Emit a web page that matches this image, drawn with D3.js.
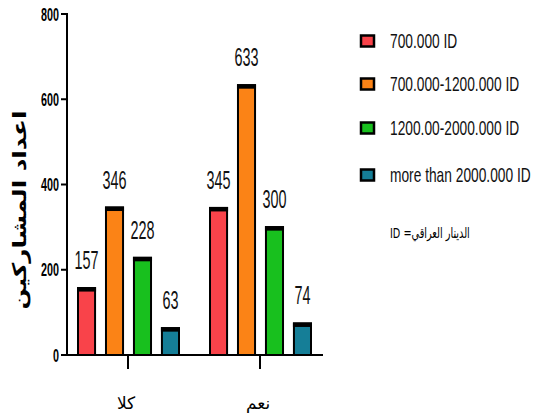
<!DOCTYPE html>
<html><head><meta charset="utf-8">
<script src="https://cdn.jsdelivr.net/npm/d3@7"></script>
<style>
body{margin:0;background:#fff;}
svg text{font-family:"Liberation Sans",Arial,sans-serif;}
</style></head>
<body><svg id="c" width="535" height="418"></svg>
<script>
const categories = ["كلا", "نعم"];
const seriesNames = ["700.000 ID", "700.000-1200.000 ID", "1200.00-2000.000 ID", "more than 2000.000 ID"];
const seriesColors = ["#f9434a", "#fb8316", "#18c01e", "#157e97"];
const valuesNo = [157, 346, 228, 63];
const valuesYes = [345, 633, 300, 74];
const yTicks = [0, 200, 400, 600, 800];
const yTitle = "اعداد المشاركين";
const note = "ID =الدينار العراقي";

const svg = d3.select("#c");
const y = d3.scaleLinear().domain([0, 800]).range([355, 14]);
const x = d3.scaleBand().domain(categories).range([62, 326]);
const xs = d3.scaleBand().domain(seriesNames).range([-50, 51]).paddingInner(0.39).paddingOuter(0);

const rows = [];
categories.forEach((c, ci) => {
  const vals = ci === 0 ? valuesNo : valuesYes;
  seriesNames.forEach((s, si) => rows.push({c, s, si, v: vals[si]}));
});

// bars
const g = svg.append("g");
rows.forEach(d => {
  const bx = x(d.c) + x.bandwidth() / 2 + xs(d.s);
  g.append("rect").attr("x", bx).attr("y", y(d.v)).attr("width", xs.bandwidth())
    .attr("height", y(0) - y(d.v)).attr("fill", seriesColors[d.si])
    .attr("stroke", "#000").attr("stroke-width", 2);
  g.append("rect").attr("x", bx - 1).attr("y", y(d.v) - 1).attr("width", xs.bandwidth() + 2)
    .attr("height", 4.5).attr("fill", "#000");
  const tx = bx + xs.bandwidth() / 2, ty = y(d.v) - 19;
  g.append("text").attr("transform", `translate(${tx},${ty}) scale(0.8,1.4)`)
    .attr("text-anchor", "middle").attr("font-size", 18).attr("fill", "#111").text(d.v);
});

// y axis
const ya = svg.append("g");
ya.append("line").attr("x1", 67).attr("x2", 67).attr("y1", y(800) - 1).attr("y2", y(0) + 1)
  .attr("stroke", "#000").attr("stroke-width", 2);
yTicks.forEach(t => {
  ya.append("line").attr("x1", 61).attr("x2", 67).attr("y1", y(t)).attr("y2", y(t))
    .attr("stroke", "#000").attr("stroke-width", 2);
  ya.append("text").attr("transform", `translate(59,${y(t) + 6.5}) scale(0.77,1.3)`)
    .attr("text-anchor", "end").attr("font-size", 14).attr("font-weight", "bold").text(t);
});

// x axis
const xa = svg.append("g");
xa.append("line").attr("x1", 66).attr("x2", 323).attr("y1", y(0)).attr("y2", y(0))
  .attr("stroke", "#000").attr("stroke-width", 2);
categories.forEach(c => {
  const cx = x(c) + x.bandwidth() / 2;
  xa.append("line").attr("x1", cx).attr("x2", cx).attr("y1", y(0)).attr("y2", y(0) + 14)
    .attr("stroke", "#000").attr("stroke-width", 2);
  xa.append("text").attr("x", cx - 2).attr("y", 409).attr("text-anchor", "middle")
    .attr("font-size", 17).style("font-family", "'DejaVu Sans','Noto Sans',sans-serif").text(c);
});

// y title
svg.append("text").attr("transform", "translate(26,210) rotate(-90) scale(1.3,1)")
  .attr("text-anchor", "middle").attr("font-size", 19).attr("font-weight", "bold")
  .style("font-family", "'DejaVu Sans','Noto Sans',sans-serif").text(yTitle);

// legend
const legY = [41, 84, 128, 175];
seriesNames.forEach((s, i) => {
  svg.append("rect").attr("x", 361).attr("y", legY[i] - 5.5).attr("width", 13).attr("height", 11)
    .attr("fill", seriesColors[i]).attr("stroke", "#000").attr("stroke-width", 2.5);
  svg.append("text").attr("transform", `translate(390,${legY[i] + 6.5}) scale(0.86,1.22)`)
    .attr("font-size", 16).attr("fill", "#111").text(s);
});
svg.append("text").attr("transform", "translate(390,238) scale(0.72,1.1)").attr("font-size", 13.5)
  .attr("direction", "ltr").style("font-family", "'DejaVu Sans','Noto Sans',sans-serif").text(note);
</script></body></html>
